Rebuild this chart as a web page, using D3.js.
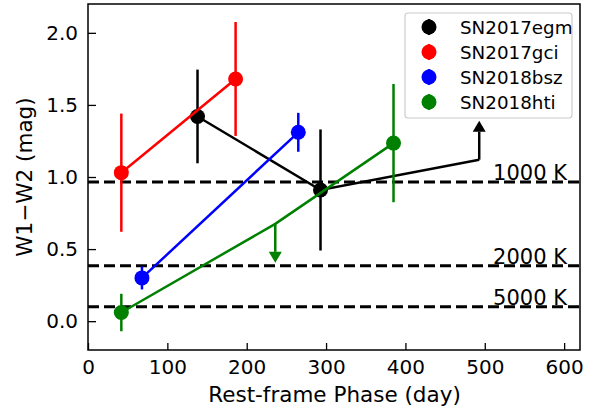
<!DOCTYPE html>
<html>
<head>
<meta charset="utf-8">
<script src="https://cdn.jsdelivr.net/npm/d3@7"></script>
<style>
  html, body { margin: 0; padding: 0; background: #fff; }
  svg { display: block; font-family: "DejaVu Sans", sans-serif; }
</style>
</head>
<body>
<svg id="chart" width="595" height="410"></svg>
<script>
// Series names and colours
const names = ["SN2017egm", "SN2017gci", "SN2018bsz", "SN2018hti"];
const colors = ["black", "red", "blue", "green"];

// Rest-frame phase (day) of each epoch
const egmPhase = [138, 293, 493];
const gciPhase = [42, 186];
const bszPhase = [68, 265];
const htiPhase = [42, 236, 385];

// W1-W2 colour (mag)
const egmColor = [1.42, 0.91, 1.12];
const gciColor = [1.03, 1.68];
const bszColor = [0.30, 1.31];
const htiColor = [0.06, 0.675, 1.235];

// 1-sigma uncertainties (null marks a limit)
const egmErr = [0.325, 0.42, null];
const gciErr = [0.41, 0.395];
const bszErr = [0.08, 0.135];
const htiErr = [0.13, null, 0.41];

// Limits: "lower" = arrow up, "upper" = arrow down
const egmLimit = [null, null, "lower"];
const gciLimit = [null, null];
const bszLimit = [null, null];
const htiLimit = [null, "upper", null];

// Blackbody temperature reference levels
const tempLevels = [0.966, 0.385, 0.10];
const tempLabels = ["1000 K", "2000 K", "5000 K"];

// Axis ticks
const xTicks = [0, 100, 200, 300, 400, 500, 600];
const yTicks = [0.0, 0.5, 1.0, 1.5, 2.0];

const series = [
  { phase: egmPhase, color: egmColor, err: egmErr, limit: egmLimit },
  { phase: gciPhase, color: gciColor, err: gciErr, limit: gciLimit },
  { phase: bszPhase, color: bszColor, err: bszErr, limit: bszLimit },
  { phase: htiPhase, color: htiColor, err: htiErr, limit: htiLimit }
].map((s, i) => ({ ...s, name: names[i], stroke: colors[i] }));

const svg = d3.select("#chart");
const plot = { left: 88, right: 580, top: 4, bottom: 350 };

const x = d3.scaleLinear().domain([0, 620]).range([plot.left, plot.right]);
const y = d3.scaleLinear().domain([-0.2, 2.2]).range([plot.bottom, plot.top]);

svg.append("defs").append("clipPath").attr("id", "plot-clip")
  .append("rect")
  .attr("x", plot.left).attr("y", plot.top)
  .attr("width", plot.right - plot.left).attr("height", plot.bottom - plot.top);

const g = svg.append("g").attr("clip-path", "url(#plot-clip)");

// Temperature reference lines
tempLevels.forEach((v, i) => {
  g.append("line")
    .attr("x1", plot.left).attr("x2", plot.right)
    .attr("y1", y(v)).attr("y2", y(v))
    .attr("stroke", "black").attr("stroke-width", 3)
    .attr("stroke-dasharray", "11,5");
  svg.append("text")
    .attr("x", 567).attr("y", y(v) - 2)
    .attr("text-anchor", "end")
    .attr("font-size", 21)
    .text(tempLabels[i]);
});

const arrowLen = 39, headW = 6.5, headH = 11;

series.forEach(s => {
  const pts = s.phase.map((p, i) => ({ p, c: s.color[i], e: s.err[i], lim: s.limit[i] }));
  const sg = g.append("g");

  // connecting line
  sg.append("path")
    .attr("d", d3.line().x(d => x(d.p)).y(d => y(d.c))(pts))
    .attr("fill", "none").attr("stroke", s.stroke).attr("stroke-width", 2.5);

  // error bars
  pts.filter(d => d.e != null).forEach(d => {
    sg.append("line")
      .attr("x1", x(d.p)).attr("x2", x(d.p))
      .attr("y1", y(d.c - d.e)).attr("y2", y(d.c + d.e))
      .attr("stroke", s.stroke).attr("stroke-width", 2.5);
  });

  // limit arrows
  pts.filter(d => d.lim).forEach(d => {
    const dir = d.lim === "lower" ? -1 : 1;
    const x0 = x(d.p), y0 = y(d.c), y1 = y0 + dir * arrowLen;
    sg.append("line")
      .attr("x1", x0).attr("x2", x0)
      .attr("y1", y0).attr("y2", y1 - dir * headH)
      .attr("stroke", s.stroke).attr("stroke-width", 2.5);
    sg.append("path")
      .attr("d", `M${x0 - headW},${y1 - dir * headH}L${x0 + headW},${y1 - dir * headH}L${x0},${y1}Z`)
      .attr("fill", s.stroke);
  });

  // markers
  sg.selectAll("circle").data(pts.filter(d => !d.lim)).join("circle")
    .attr("cx", d => x(d.p)).attr("cy", d => y(d.c))
    .attr("r", 7.5).attr("fill", s.stroke);
});

// Axes with inward ticks
const xAxis = d3.axisBottom(x).tickValues(xTicks).tickFormat(d3.format("d"))
  .tickSizeInner(-7).tickSizeOuter(0).tickPadding(10);
const yAxis = d3.axisLeft(y).tickValues(yTicks).tickFormat(d3.format(".1f"))
  .tickSizeInner(-8).tickSizeOuter(0).tickPadding(10);

const gx = svg.append("g").attr("transform", `translate(0,${plot.bottom})`).call(xAxis);
const gy = svg.append("g").attr("transform", `translate(${plot.left},0)`).call(yAxis);
[gx, gy].forEach(a => {
  a.select(".domain").remove();
  a.selectAll(".tick line").attr("stroke", "black").attr("stroke-width", 1.3);
  a.selectAll(".tick text").attr("font-size", 20).attr("fill", "black")
    .attr("font-family", "DejaVu Sans, sans-serif");
});

// Frame
svg.append("rect")
  .attr("x", plot.left).attr("y", plot.top)
  .attr("width", plot.right - plot.left).attr("height", plot.bottom - plot.top)
  .attr("fill", "none").attr("stroke", "black").attr("stroke-width", 1.5);

// Axis titles
svg.append("text")
  .attr("x", (plot.left + plot.right) / 2 + 0.5).attr("y", 402)
  .attr("text-anchor", "middle").attr("font-size", 21.5)
  .text("Rest-frame Phase (day)");
svg.append("text")
  .attr("transform", `translate(32,${(plot.top + plot.bottom) / 2}) rotate(-90)`)
  .attr("text-anchor", "middle").attr("font-size", 21.5)
  .text("W1\u2212W2 (mag)");

// Legend
const lg = svg.append("g");
lg.append("rect")
  .attr("x", 405).attr("y", 13).attr("width", 167).attr("height", 105)
  .attr("rx", 3).attr("fill", "white").attr("fill-opacity", 0.8)
  .attr("stroke", "#cccccc").attr("stroke-width", 1.2);
series.forEach((s, i) => {
  const cy = 27 + i * 25;
  lg.append("line").attr("x1", 429).attr("x2", 429)
    .attr("y1", cy - 8).attr("y2", cy + 8)
    .attr("stroke", s.stroke).attr("stroke-width", 2.5);
  lg.append("circle").attr("cx", 429).attr("cy", cy).attr("r", 7.5).attr("fill", s.stroke);
  lg.append("text").attr("x", 460).attr("y", cy + 6.5)
    .attr("font-size", 18.3).text(s.name);
});
</script>
</body>
</html>
